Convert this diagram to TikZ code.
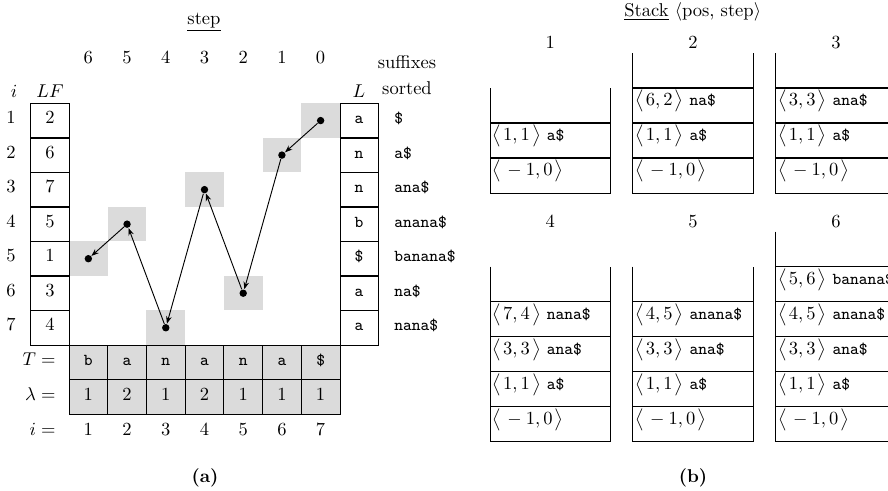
\documentclass[tikz,border=0pt]{standalone}
\usepackage{amsmath, amssymb}
\usepackage{tikz}
\usetikzlibrary{arrows.meta}

\definecolor{cellgray}{gray}{0.86}
\newcommand{\sfx}[1]{{\fontsize{9}{11}\selectfont\ttfamily #1}}
\newcommand{\pr}[2]{$\bigl\langle\mkern2mu#1,#2\mkern2mu\bigr\rangle$}

\tikzset{
  dot/.style={circle, fill=black, inner sep=0pt, minimum size=4pt},
  walk/.style={-{Stealth[length=4pt, width=3pt]}, line width=0.5pt},
  sep/.style={line width=0.75pt},
  rowtxt/.style={inner sep=0pt, text height=1.4ex, text depth=0.6ex},
  entry/.style={anchor=west, inner sep=0.5pt, text height=1.6ex, text depth=1.6ex}
}

\begin{document}
\begin{tikzpicture}[x=0.54pt, y=-0.54pt, line width=0.5pt]
  \useasboundingbox (0,0) rectangle (888,490);
  \clip (0,0) rectangle (888,490);

  % (a) intestazioni
  \node (steptitle) at (204,22) {\underline{step}};
  \foreach \s in {0,...,6}
    \node (top\s) at ({49.65+38.71*(7-\s)},58) {$\s$};
  \node (ihead) at (14,91) {$i$};
  \node (lfhead) at (50,91) {$LF$};
  \node (lhead) at (359,91) {$L$};
  \node (suf1) at (407,62) {suffixes};
  \node (suf2) at (407,88) {sorted};

  % celle grigie del cammino
  \foreach \s/\r in {0/1,1/2,2/6,3/3,4/7,5/4,6/5}
    \fill[cellgray] ({69+38.71*(6-\s)},{103.3+34.53*(\r-1)}) rectangle +(38.71,34.53);

  % colonne LF e L
  \draw (30.7,103.3) rectangle (69,345);
  \draw (340,103.3) rectangle (378.3,345);
  \foreach \r in {1,...,6} {
    \draw[sep] (30.7,{103.3+34.53*\r}) -- (69,{103.3+34.53*\r});
    \draw[sep] (340,{103.3+34.53*\r}) -- (378.3,{103.3+34.53*\r});
  }
  \foreach \v [count=\r] in {2,6,7,5,1,3,4} {
    \node[rowtxt] (row\r) at (11,{86.04+34.53*\r}) {$\r$};
    \node[rowtxt] (lf\r) at (50,{86.04+34.53*\r}) {$\v$};
  }
  \foreach \c [count=\r] in {a,n,n,b,\$,a,a}
    \node[rowtxt] (l\r) at (359,{86.04+34.53*\r}) {\sfx{\c}};
  \foreach \w [count=\r] in {\$,a\$,ana\$,anana\$,banana\$,na\$,nana\$}
    \node[rowtxt, anchor=west] (s\r) at (394,{86.04+34.53*\r}) {\sfx{\w}};

  % righe T e lambda
  \fill[cellgray] (69,345) rectangle (340,414);
  \draw (69,345) rectangle (340,414);
  \draw[line width=1pt] (69,379.5) -- (340,379.5);
  \foreach \c in {1,...,6}
    \draw ({69+38.71*\c},345) -- ({69+38.71*\c},414);
  \foreach \t/\l [count=\c] in {b/1,a/2,n/1,a/2,n/1,a/1,\$/1} {
    \node[rowtxt] (t\c) at ({49.65+38.71*\c},362) {\sfx{\t}};
    \node[rowtxt] (lam\c) at ({49.65+38.71*\c},397) {$\l$};
    \node[rowtxt] (idx\c) at ({49.65+38.71*\c},432) {$\c$};
  }
  \node[rowtxt, anchor=east] (tlab) at (56,362) {$T=$};
  \node[rowtxt, anchor=east] (lamlab) at (56,397) {$\lambda=$};
  \node[rowtxt, anchor=east] (ilab) at (56,432) {$i=$};

  % cammino LF
  \foreach \s/\r in {0/1,1/2,2/6,3/3,4/7,5/4,6/5}
    \node[dot] (d\s) at ({49.65+38.71*(7-\s)},{86.04+34.53*\r}) {};
  \foreach \a/\b in {0/1,1/2,2/3,3/4,4/5,5/6}
    \draw[walk] (d\a) -- (d\b);

  \node (capa) at (205,478) {\textbf{(a)}};

  % (b) pile
  \node (stacktitle) at (692.7,12) {\underline{Stack} $\langle$pos, step$\rangle$};
  \foreach \n/\x/\yb/\ly/\lst in {
      1/490/193/43/{\pr{{}-1}{0}, \pr{1}{1} \sfx{a\$}},
      2/632.7/193/43/{\pr{{}-1}{0}, \pr{1}{1} \sfx{a\$}, \pr{6}{2} \sfx{na\$}},
      3/775.7/193/43/{\pr{{}-1}{0}, \pr{1}{1} \sfx{a\$}, \pr{3}{3} \sfx{ana\$}},
      4/490/441.7/222/{\pr{{}-1}{0}, \pr{1}{1} \sfx{a\$}, \pr{3}{3} \sfx{ana\$}, \pr{7}{4} \sfx{nana\$}},
      5/632.7/441.7/222/{\pr{{}-1}{0}, \pr{1}{1} \sfx{a\$}, \pr{3}{3} \sfx{ana\$}, \pr{4}{5} \sfx{anana\$}},
      6/775.7/441.7/222/{\pr{{}-1}{0}, \pr{1}{1} \sfx{a\$}, \pr{3}{3} \sfx{ana\$}, \pr{4}{5} \sfx{anana\$}, \pr{5}{6} \sfx{banana\$}}} {
    \node (lab\n) at ({\x+60.3},\ly) {$\n$};
    \foreach \e [count=\j] in \lst {
      \node[entry] (e\n-\j) at ({\x+1},{\yb-35*\j+17.5}) {\e};
      \draw[sep] (\x,{\yb-35*\j}) -- ({\x+120.6},{\yb-35*\j});
      \xdef\stktop{\j}
    }
    \draw (\x,{\yb-35*(\stktop+1)}) -- (\x,\yb) -- ({\x+120.6},\yb) -- ({\x+120.6},{\yb-35*(\stktop+1)});
  }

  \node (capb) at (693,478) {\textbf{(b)}};
\end{tikzpicture}
\end{document}
